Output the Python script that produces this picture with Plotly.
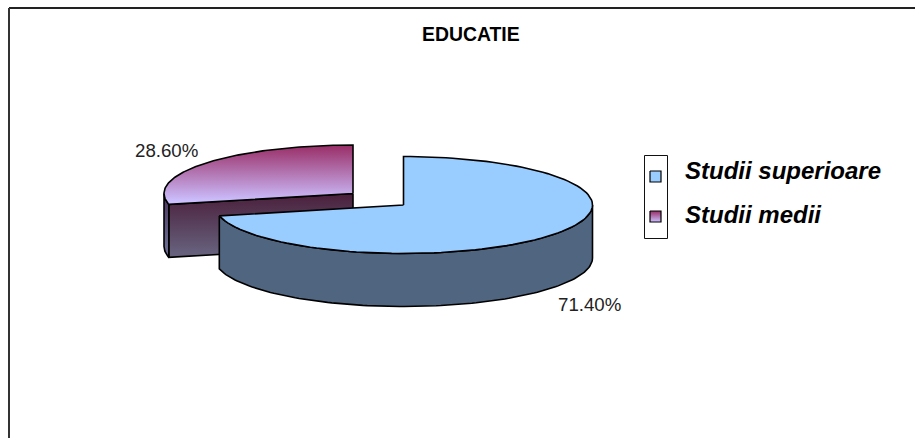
import numpy as np
import plotly.graph_objects as go

# --- data ---
categories = ["Studii superioare", "Studii medii"]
shares = [71.40, 28.60]
value_labels = ["71.40%", "28.60%"]
chart_title = "EDUCATIE"

# --- pie geometry (page pixels used as axis units) ---
W, H = 915, 438
RX, RY, DEPTH = 189, 48.5, 53
CENTERS = [(403.5, 205), (353, 193.5)]

BLUE_TOP = "#99ccff"
BLUE_SIDE = "#50657f"
PURPLE_GRAD = [[0, "#992d66"], [1, "#ccc0ff"]]
CUT_GRAD = [[0, "#4a1f3b"], [1, "#66607c"]]
EDGE = dict(color="#000000", width=1.6)


def ellipse(c, t0, t1, n=120, dy=0):
    t = np.radians(np.linspace(t0, t1, n))
    return c[0] + RX * np.sin(t), c[1] - RY * np.cos(t) + dy


def poly(xs, ys, fill=None, grad=None, gy=None, line=EDGE):
    kw = dict(x=list(xs), y=list(ys), mode="lines", line=line, fill="toself",
              hoverinfo="skip", showlegend=False)
    if grad:
        kw["fillgradient"] = dict(type="vertical", colorscale=grad, start=gy[0], stop=gy[1])
    else:
        kw["fillcolor"] = fill
    return go.Scatter(**kw)


fig = go.Figure()

# angular extents derived from the shares (clockwise from 12 o'clock)
sweep_a = shares[0] / sum(shares) * 360
c_a, c_b = CENTERS

# --- exploded slice (drawn first, sits behind) ---
ex, ey = ellipse(c_b, sweep_a, 360)
sx, sy = ex[0], ey[0]
# cut face
fig.add_trace(poly([c_b[0], sx, sx, c_b[0], c_b[0]],
                   [c_b[1], sy, sy + DEPTH, c_b[1] + DEPTH, c_b[1]],
                   grad=CUT_GRAD, gy=(c_b[1], c_b[1] + DEPTH + 6)))
# outer wall up to the left extreme
wx, wy = ellipse(c_b, sweep_a, 270, n=30)
fig.add_trace(poly(list(wx) + list(wx[::-1]) + [wx[0]],
                   list(wy) + list((wy + DEPTH)[::-1]) + [wy[0]],
                   grad=[[0, "#4a3560"], [1, "#6a6a90"]], gy=(c_b[1], c_b[1] + DEPTH)))
# top face
fig.add_trace(poly([c_b[0]] + list(ex) + [c_b[0]], [c_b[1]] + list(ey) + [c_b[1]],
                   grad=PURPLE_GRAD, gy=(c_b[1] - RY, c_b[1] + 8)))

# --- main slice ---
mx, my = ellipse(c_a, 0, sweep_a)
# outer wall, front half
fx, fy = ellipse(c_a, 90, sweep_a)
fig.add_trace(poly(list(fx) + list(fx[::-1]) + [fx[0]],
                   list(fy) + list((fy + DEPTH)[::-1]) + [fy[0]], fill=BLUE_SIDE))
# top face
fig.add_trace(poly([c_a[0]] + list(mx) + [c_a[0]], [c_a[1]] + list(my) + [c_a[1]], fill=BLUE_TOP))

# --- legend swatches ---
LEG_X = (650, 661)
LEG_Y = [(171, 182), (211, 222)]
fig.add_trace(poly([LEG_X[0], LEG_X[1], LEG_X[1], LEG_X[0], LEG_X[0]],
                   [LEG_Y[0][0], LEG_Y[0][0], LEG_Y[0][1], LEG_Y[0][1], LEG_Y[0][0]],
                   fill=BLUE_TOP, line=dict(color="#000", width=1.2)))
fig.add_trace(poly([LEG_X[0], LEG_X[1], LEG_X[1], LEG_X[0], LEG_X[0]],
                   [LEG_Y[1][0], LEG_Y[1][0], LEG_Y[1][1], LEG_Y[1][1], LEG_Y[1][0]],
                   grad=PURPLE_GRAD, gy=LEG_Y[1], line=dict(color="#000", width=1.2)))

shapes = [
    dict(type="line", x0=9, x1=W, y0=8, y1=8, line=dict(color="#222", width=2)),
    dict(type="line", x0=9, x1=9, y0=8, y1=H, line=dict(color="#333", width=2)),
    dict(type="rect", x0=644.5, x1=667.5, y0=155.5, y1=238.5, line=dict(color="#111", width=1), layer="below"),
]


def text(x, y, s, size, bold=False, italic=False, anchor="left", color="#000"):
    return dict(x=x, y=y, text=f"<b>{s}</b>" if bold else s, showarrow=False, xanchor=anchor, yanchor="middle",
                font=dict(family="Liberation Sans", size=size, color=color,
                          style="italic" if italic else "normal"),
                borderpad=0, xshift=0)


annotations = [
    text(471, 33.5, chart_title, 19.4, bold=True, anchor="center"),
    text(683.5, 170, categories[0], 24, bold=True, italic=True),
    text(683.5, 214, categories[1], 24, bold=True, italic=True),
    text(557, 304, value_labels[0], 18.7, color="#222"),
    text(134, 150, value_labels[1], 18.7, color="#222"),
]

fig.update_layout(
    width=W, height=H, margin=dict(l=0, r=0, t=0, b=0),
    paper_bgcolor="white", plot_bgcolor="white", showlegend=False,
    xaxis=dict(range=[0, W], visible=False, fixedrange=True),
    yaxis=dict(range=[H, 0], visible=False, fixedrange=True),
    shapes=shapes, annotations=annotations,
)
fig.write_html("out.html", config=dict(displayModeBar=False),
               post_script="document.body.style.margin='0';document.documentElement.style.overflow='hidden';")
